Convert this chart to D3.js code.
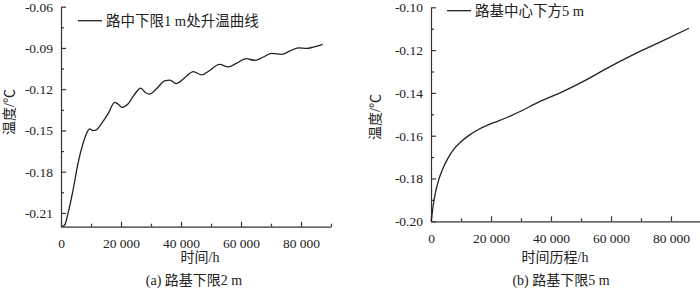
<!DOCTYPE html>
<html>
<head>
<meta charset="utf-8">
<script src="https://cdn.jsdelivr.net/npm/d3@7"></script>
<style>
    body { margin: 0; background: #fff; }
    #chart { width: 700px; height: 288px; }
    text { font-family: "Liberation Serif", "Times New Roman", "Noto Sans CJK SC", serif; fill: #222; }
    .cjk { font-family: "Liberation Serif", "Noto Sans CJK SC", serif; }
</style>
</head>
<body>
<div id="chart"></div>
<script>

// ---- data ----
// (a) 路基下限2 m
let leftHours = [0, 667, 1233, 2333, 4000, 5667, 7333, 9000, 9567, 10667, 11767, 13433, 15667, 17900, 19000,
    20333, 22333, 24567, 26567, 28100, 29567, 31767, 34567, 36333, 38333, 41333, 44100, 46900, 49667,
    52767, 55767, 58567, 61667, 64667, 67433, 70233, 73567, 76333, 79100, 81900, 84100, 87233];
let leftTemps = [-0.2200, -0.2195, -0.2188, -0.2103, -0.1935, -0.1739, -0.1595, -0.1501, -0.1489, -0.1501, -0.1496,
    -0.1452, -0.1380, -0.1296, -0.1308, -0.1332, -0.1308, -0.1236, -0.1192, -0.1224, -0.1236, -0.1199,
    -0.1139, -0.1134, -0.1159, -0.1115, -0.1072, -0.1096, -0.1062, -0.1019, -0.1038, -0.1011, -0.0978,
    -0.0990, -0.0966, -0.0939, -0.0946, -0.0922, -0.0899, -0.0903, -0.0894, -0.0874];

// (b) 路基下限5 m
let rightHours = [0, 100, 667, 1433, 2567, 4000, 5667, 7900, 10100, 12900, 15667, 19000, 22333, 26767,
    29667, 36333, 44100, 51900, 59667, 67433, 76333, 86000];
let rightTemps = [-0.2000, -0.1994, -0.1932, -0.1869, -0.1806, -0.1752, -0.1705, -0.1658, -0.1627, -0.1596,
    -0.1572, -0.1549, -0.1532, -0.1506, -0.1487, -0.1440, -0.1393, -0.1338, -0.1277, -0.1221, -0.1163, -0.1098];

let hourTicks = [0, 20000, 40000, 60000, 80000];
let leftTempTicks = [-0.21, -0.18, -0.15, -0.12, -0.09, -0.06];
let rightTempTicks = [-0.20, -0.18, -0.16, -0.14, -0.12, -0.10];

let leftLegend = "路中下限1 m处升温曲线";
let rightLegend = "路基中心下方5 m";


/* * * * * * * * * * * * * *
*         LineChart         *
* * * * * * * * * * * * * */

class LineChart {

    constructor(_svg, _opts, _xs, _ys) {
        this.svg = _svg;
        this.opts = _opts;
        this.data = _xs.map((x, i) => ({hour: x, temp: _ys[i]}));

        this.initVis();
    }

    initVis() {
        let vis = this;
        let o = vis.opts;

        vis.locale = d3.formatLocale({decimal: ".", thousands: " ", grouping: [3], currency: ["", ""], minus: "-"});

        vis.x = d3.scaleLinear().domain(o.xDomain).range([o.left, o.right]);
        vis.y = d3.scaleLinear().domain(o.yDomain).range([o.bottom, o.top]);

        vis.g = vis.svg.append("g");

        // minor ticks first, majors on top
        vis.g.append("g")
            .attr("transform", `translate(0,${o.bottom})`)
            .call(d3.axisBottom(vis.x).tickValues(d3.range(10000, 90001, 20000)).tickSize(-3).tickFormat(""))
            .call(g => g.select(".domain").remove());
        vis.g.append("g")
            .attr("transform", `translate(${o.left},0)`)
            .call(d3.axisLeft(vis.y).tickValues(o.yMinor).tickSize(-3).tickFormat(""))
            .call(g => g.select(".domain").remove());

        // x axis
        vis.xAxis = vis.g.append("g")
            .attr("transform", `translate(0,${o.bottom})`)
            .call(d3.axisBottom(vis.x).tickValues(hourTicks).tickSizeInner(-5).tickSizeOuter(0)
                .tickPadding(12).tickFormat(vis.locale.format(",")));

        // y axis
        vis.yAxis = vis.g.append("g")
            .attr("transform", `translate(${o.left},0)`)
            .call(d3.axisLeft(vis.y).tickValues(o.yTicks).tickSizeInner(-5).tickSizeOuter(0)
                .tickPadding(8).tickFormat(vis.locale.format(".2f")));

        vis.g.selectAll(".tick text")
            .style("font-size", "13.5px")
            .style("font-family", '"Liberation Serif", "Times New Roman", serif')
            .attr("fill", "#222");
        vis.g.selectAll(".domain, .tick line")
            .attr("stroke", "#333")
            .attr("stroke-width", 1.2);

        // axis titles
        vis.g.append("text")
            .attr("class", "cjk")
            .attr("x", o.xTitleX)
            .attr("y", 262)
            .attr("text-anchor", "middle")
            .style("font-size", "14px")
            .text(o.xTitle);

        vis.g.append("text")
            .attr("class", "cjk")
            .attr("transform", `translate(${o.yTitleX},${o.yTitleY}) rotate(-90)`)
            .attr("text-anchor", "middle")
            .style("font-size", "14px")
            .text("温度/℃");

        vis.g.append("text")
            .attr("class", "cjk")
            .attr("x", o.captionX)
            .attr("y", 285)
            .attr("text-anchor", "middle")
            .style("font-size", "14px")
            .text(o.caption);

        // legend
        let lg = vis.g.append("g").attr("transform", `translate(${o.legendX},${o.legendY})`);
        lg.append("line")
            .attr("x1", 0).attr("x2", 24)
            .attr("stroke", "#222").attr("stroke-width", 1.3);
        lg.append("text")
            .attr("class", "cjk")
            .attr("x", 28).attr("y", 5)
            .style("font-size", "14.5px")
            .text(o.legend);

        vis.line = d3.line()
            .x(d => vis.x(d.hour))
            .y(d => vis.y(d.temp))
            .curve(d3.curveMonotoneX);

        this.updateVis();
    }

    updateVis() {
        let vis = this;

        vis.g.append("path")
            .datum(vis.data)
            .attr("fill", "none")
            .attr("stroke", "#222")
            .attr("stroke-width", 1.3)
            .attr("d", vis.line);
    }
}

let svg = d3.select("#chart").append("svg")
    .attr("width", 700)
    .attr("height", 288);

new LineChart(svg, {
    left: 61, right: 331, top: 6.7, bottom: 226.7,
    xDomain: [0, 90000], yDomain: [-0.22, -0.06],
    yTicks: leftTempTicks,
    yMinor: d3.range(-0.225, -0.06, 0.03).map(v => +v.toFixed(3)).filter(v => v > -0.22),
    xTitle: "时间/h", xTitleX: 200,
    yTitleX: 14, yTitleY: 112,
    caption: "(a) 路基下限2 m", captionX: 194,
    legend: leftLegend, legendX: 78, legendY: 20.7
}, leftHours, leftTemps);

new LineChart(svg, {
    left: 431, right: 701, top: 7.3, bottom: 221.3,
    xDomain: [0, 90000], yDomain: [-0.20, -0.10],
    yTicks: rightTempTicks,
    yMinor: d3.range(-0.19, -0.10, 0.02).map(v => +v.toFixed(3)),
    xTitle: "时间历程/h", xTitleX: 555,
    yTitleX: 380, yTitleY: 117,
    caption: "(b) 路基下限5 m", captionX: 561,
    legend: rightLegend, legendX: 447, legendY: 10.7
}, rightHours, rightTemps);

</script>
</body>
</html>
